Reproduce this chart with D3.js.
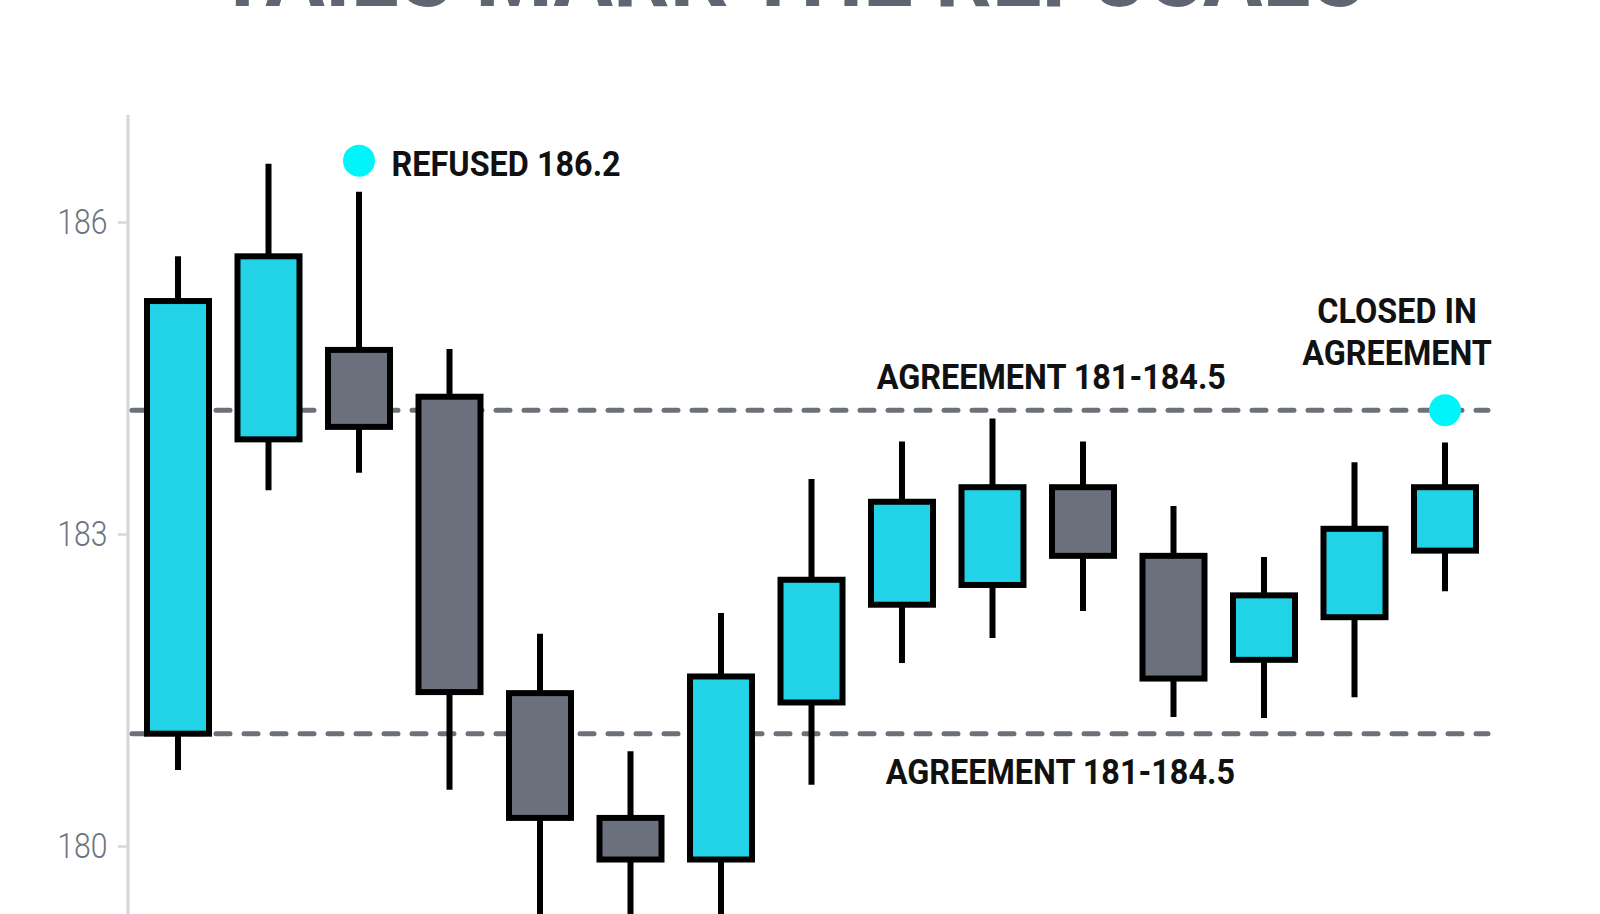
<!DOCTYPE html>
<html>
<head>
<meta charset="utf-8">
<script src="https://cdn.jsdelivr.net/npm/d3@7"></script>
<style>
  html, body { margin: 0; padding: 0; background: #fff; overflow: hidden; }
  #chart { width: 1600px; height: 914px; }
</style>
</head>
<body>
<div id="chart"></div>
<script>
// candles
const opens  = [181.08, 183.91, 184.77, 184.32, 181.47, 180.27, 179.87, 181.38, 182.32, 182.51, 183.45, 182.79, 181.79, 182.20, 182.84];
const closes = [185.24, 185.67, 184.03, 181.48, 180.27, 179.87, 181.63, 182.56, 183.31, 183.45, 182.79, 181.61, 182.41, 183.05, 183.45];
const highs  = [185.67, 186.56, 186.29, 184.78, 182.04, 180.91, 182.24, 183.53, 183.89, 184.11, 183.89, 183.27, 182.78, 183.69, 183.88];
const lows   = [180.73, 183.42, 183.59, 180.54, 178.90, 178.90, 178.90, 180.59, 181.76, 182.00, 182.26, 181.24, 181.23, 181.43, 182.45];

const yTicks = [180, 183, 186];
const bandValues = [184.19, 181.08];

// annotations
const dots = [
  {i: 2, v: 186.59},
  {i: 14, v: 184.19}
];
const labels = [
  {lines: ["REFUSED 186.2"], i: 2.36, v: 186.59, anchor: "start", dy: 15},
  {lines: ["AGREEMENT 181-184.5"], i: 9.65, v: 184.19, anchor: "middle", dy: -21},
  {lines: ["AGREEMENT 181-184.5"], i: 9.75, v: 181.08, anchor: "middle", dy: 50},
  {lines: ["CLOSED IN", "AGREEMENT"], i: 13.47, v: 184.19, anchor: "middle", dy: -87}
];
const title = "TAILS MARK THE REFUSALS";

const width = 1600, height = 914;
const axisX = 128;
const squeeze = 0.9; // fake a condensed face

const svg = d3.select("#chart").append("svg")
    .attr("width", width)
    .attr("height", height);

const x = d3.scaleLinear()
    .domain([0, opens.length - 1])
    .range([178, 1445]);

const y = d3.scaleLinear()
    .domain([180, 186])
    .range([846, 222]);

// title, mostly cut off by the top edge
svg.append("text")
    .attr("x", 215)
    .attr("y", 6)
    .attr("textLength", 1150)
    .attr("lengthAdjust", "spacingAndGlyphs")
    .attr("font-family", "Roboto, sans-serif")
    .attr("font-weight", 700)
    .attr("font-size", 100)
    .attr("fill", "#5f6672")
    .text(title);

// y axis
svg.append("line")
    .attr("x1", axisX).attr("x2", axisX)
    .attr("y1", 115).attr("y2", height)
    .attr("stroke", "#d4d6da")
    .attr("stroke-width", 3);

const yAxis = svg.append("g")
    .attr("transform", `translate(${axisX},0)`)
    .call(d3.axisLeft(y).tickValues(yTicks).tickSize(10).tickPadding(14).tickFormat(d3.format("d")));

yAxis.select(".domain").remove();
yAxis.selectAll(".tick line")
    .attr("stroke", "#d4d6da")
    .attr("stroke-width", 2.5);
yAxis.selectAll(".tick text")
    .attr("font-family", "Roboto, sans-serif")
    .attr("font-weight", 300)
    .attr("font-size", 35)
    .attr("fill", "#6b7280")
    .attr("transform", "scale(0.86,1)");

// agreement band edges
svg.append("g").selectAll("line")
    .data(bandValues)
    .join("line")
    .attr("x1", axisX + 4)
    .attr("x2", 1488)
    .attr("y1", d => y(d))
    .attr("y2", d => y(d))
    .attr("stroke", "#6b7079")
    .attr("stroke-width", 5)
    .attr("stroke-linecap", "round")
    .attr("stroke-dasharray", "14 14");

// candles
const data = opens.map((o, i) => ({i, o, c: closes[i], h: highs[i], l: lows[i]}));
const bodyW = 62;

const candle = svg.append("g").selectAll("g")
    .data(data)
    .join("g");

candle.append("line")
    .attr("x1", d => x(d.i))
    .attr("x2", d => x(d.i))
    .attr("y1", d => y(d.h))
    .attr("y2", d => y(d.l))
    .attr("stroke", "#000")
    .attr("stroke-width", 6);

candle.append("rect")
    .attr("x", d => x(d.i) - bodyW / 2)
    .attr("y", d => y(Math.max(d.o, d.c)))
    .attr("width", bodyW)
    .attr("height", d => Math.abs(y(d.o) - y(d.c)))
    .attr("fill", d => d.c >= d.o ? "#22d3e8" : "#6b717c")
    .attr("stroke", "#000")
    .attr("stroke-width", 6);

// markers
svg.append("g").selectAll("circle")
    .data(dots)
    .join("circle")
    .attr("cx", d => x(d.i))
    .attr("cy", d => y(d.v))
    .attr("r", 16)
    .attr("fill", "#00f5fa");

// annotation text
labels.forEach(lb => {
  const t = svg.append("text")
      .attr("transform", `translate(${x(lb.i)},${y(lb.v) + lb.dy}) scale(${squeeze},1)`)
      .attr("text-anchor", lb.anchor)
      .attr("font-family", "Roboto, sans-serif")
      .attr("font-weight", 700)
      .attr("font-size", 36)
      .attr("fill", "#111");
  lb.lines.forEach((s, k) => {
    t.append("tspan")
        .attr("x", 0)
        .attr("y", k * 42)
        .text(s);
  });
});
</script>
</body>
</html>
